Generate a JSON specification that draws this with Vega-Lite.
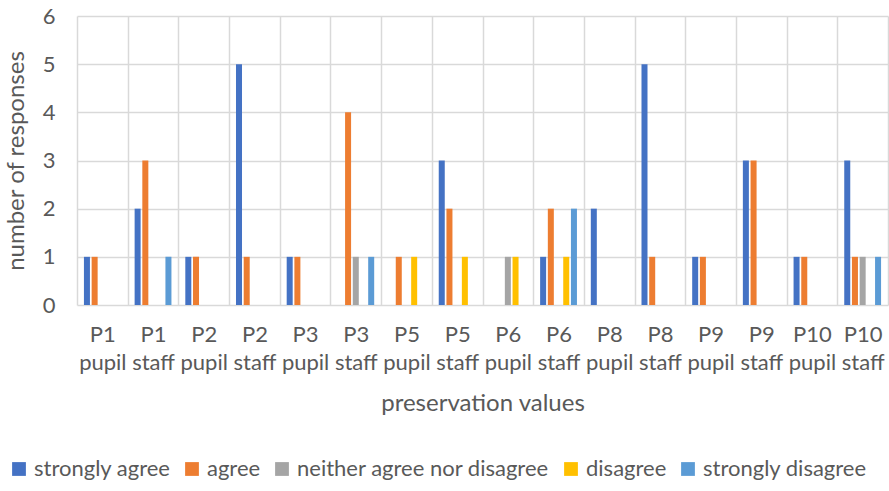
{
  "$schema": "https://vega.github.io/schema/vega-lite/v6.json",
  "autosize": {"type": "none"},
  "width": 811,
  "height": 289,
  "padding": {"left": 77, "top": 16, "right": 1, "bottom": 186},
  "background": "white",
  "config": {
    "font": "Lato",
    "view": {"stroke": null}
  },
  "data": {
    "values": [
      {"group": "P1 pupil", "response": "strongly agree", "count": 1},
      {"group": "P1 pupil", "response": "agree", "count": 1},
      {"group": "P1 staff", "response": "strongly agree", "count": 2},
      {"group": "P1 staff", "response": "agree", "count": 3},
      {"group": "P1 staff", "response": "strongly disagree", "count": 1},
      {"group": "P2 pupil", "response": "strongly agree", "count": 1},
      {"group": "P2 pupil", "response": "agree", "count": 1},
      {"group": "P2 staff", "response": "strongly agree", "count": 5},
      {"group": "P2 staff", "response": "agree", "count": 1},
      {"group": "P3 pupil", "response": "strongly agree", "count": 1},
      {"group": "P3 pupil", "response": "agree", "count": 1},
      {"group": "P3 staff", "response": "agree", "count": 4},
      {"group": "P3 staff", "response": "neither agree nor disagree", "count": 1},
      {"group": "P3 staff", "response": "strongly disagree", "count": 1},
      {"group": "P5 pupil", "response": "agree", "count": 1},
      {"group": "P5 pupil", "response": "disagree", "count": 1},
      {"group": "P5 staff", "response": "strongly agree", "count": 3},
      {"group": "P5 staff", "response": "agree", "count": 2},
      {"group": "P5 staff", "response": "disagree", "count": 1},
      {"group": "P6 pupil", "response": "neither agree nor disagree", "count": 1},
      {"group": "P6 pupil", "response": "disagree", "count": 1},
      {"group": "P6 staff", "response": "strongly agree", "count": 1},
      {"group": "P6 staff", "response": "agree", "count": 2},
      {"group": "P6 staff", "response": "disagree", "count": 1},
      {"group": "P6 staff", "response": "strongly disagree", "count": 2},
      {"group": "P8 pupil", "response": "strongly agree", "count": 2},
      {"group": "P8 staff", "response": "strongly agree", "count": 5},
      {"group": "P8 staff", "response": "agree", "count": 1},
      {"group": "P9 pupil", "response": "strongly agree", "count": 1},
      {"group": "P9 pupil", "response": "agree", "count": 1},
      {"group": "P9 staff", "response": "strongly agree", "count": 3},
      {"group": "P9 staff", "response": "agree", "count": 3},
      {"group": "P10 pupil", "response": "strongly agree", "count": 1},
      {"group": "P10 pupil", "response": "agree", "count": 1},
      {"group": "P10 staff", "response": "strongly agree", "count": 3},
      {"group": "P10 staff", "response": "agree", "count": 1},
      {"group": "P10 staff", "response": "neither agree nor disagree", "count": 1},
      {"group": "P10 staff", "response": "strongly disagree", "count": 1}
    ]
  },
  "mark": {"type": "bar"},
  "encoding": {
    "x": {
      "field": "group",
      "type": "nominal",
      "sort": null,
      "scale": {"paddingInner": 0, "paddingOuter": 0},
      "axis": {
        "title": "preservation values",
        "titleFont": "Lato",
        "titleFontSize": 24,
        "titleFontWeight": "normal",
        "titleColor": "#595959",
        "titlePadding": 18,
        "labelAngle": 0,
        "labelExpr": "split(datum.label, ' ')",
        "labelFontSize": 22,
        "labelColor": "#595959",
        "labelLineHeight": 28,
        "labelPadding": 19,
        "labelBaseline": "top",
        "labelLimit": 0,
        "labelOverlap": false,
        "ticks": false,
        "domain": false,
        "grid": true,
        "tickBand": "extent",
        "gridColor": "#d9d9d9",
        "gridWidth": 1.5
      }
    },
    "xOffset": {
      "field": "response",
      "type": "nominal",
      "scale": {
        "domain": ["strongly agree", "agree", "neither agree nor disagree", "disagree", "strongly disagree"],
        "paddingInner": 0.22,
        "paddingOuter": 0.9
      }
    },
    "y": {
      "field": "count",
      "type": "quantitative",
      "scale": {"domain": [0, 6]},
      "axis": {
        "title": "number of responses",
        "titleFont": "Lato",
        "titleFontSize": 24,
        "titleFontWeight": "normal",
        "titleColor": "#595959",
        "titlePadding": 14,
        "values": [0, 1, 2, 3, 4, 5, 6],
        "labelOverlap": false,
        "labelFontSize": 22,
        "labelColor": "#595959",
        "labelPadding": 22,
        "ticks": false,
        "domain": false,
        "grid": true,
        "gridColor": "#d9d9d9",
        "gridWidth": 1.5
      }
    },
    "color": {
      "field": "response",
      "type": "nominal",
      "scale": {
        "domain": ["strongly agree", "agree", "neither agree nor disagree", "disagree", "strongly disagree"],
        "range": ["#4472C4", "#ED7D31", "#A5A5A5", "#FFC000", "#5B9BD5"]
      },
      "legend": {
        "title": null,
        "orient": "none",
        "direction": "horizontal",
        "legendX": -69,
        "legendY": 442,
        "symbolType": "square",
        "symbolSize": 190,
        "symbolStrokeWidth": 0,
        "labelFontSize": 22,
        "labelColor": "#595959",
        "labelOffset": 4,
        "columnPadding": 10,
        "labelLimit": 0
      }
    }
  }
}
